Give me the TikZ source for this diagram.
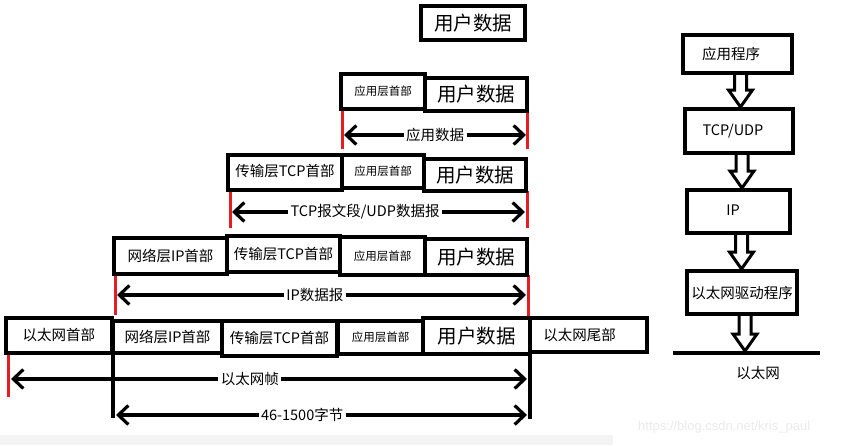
\documentclass[tikz,border=0pt]{standalone}
\usepackage{fontspec}
\setmainfont{Noto Sans CJK SC}
\newfontfamily\wmfont{Liberation Sans}
\usetikzlibrary{arrows.meta,calc,backgrounds}
\definecolor{redmark}{HTML}{E51C23}
\definecolor{stripgray}{HTML}{F4F4F4}
\definecolor{wmgray}{HTML}{EAEAEA}
\newcommand\hollowarrow[2]{%
  \draw[harr] let \p1=(#1), \p2=(#2) in
    (\x1-3pt,\y1+1pt) -- (\x1+9pt,\y1+1pt) -- (\x1+9pt,\y2+19pt) -- (\x1+15pt,\y2+19pt)
    -- (\x1+3pt,\y2+2pt) -- (\x1-9pt,\y2+19pt) -- (\x1-3pt,\y2+19pt) -- cycle;}
\begin{document}
\begin{tikzpicture}[x=1pt,y=-1pt,
  box/.style={draw=black, line width=3.5pt, fill=white, inner sep=0pt, outer sep=0pt, anchor=north west},
  rbox/.style={box, line width=4pt},
  big/.style={font=\fontsize{19.5}{19.5}\selectfont},
  mid/.style={font=\fontsize{14.5}{14.5}\selectfont},
  small/.style={font=\fontsize{11.5}{11.5}\selectfont},
  redl/.style={draw=redmark, line width=3pt},
  blackl/.style={draw=black, line width=3.5pt},
  span/.style={draw=black, line width=3.5pt,
    {Straight Barb[length=10pt,width=19pt,line width=3.2pt]}-{Straight Barb[length=10pt,width=19pt,line width=3.2pt]}},
  lab/.style={fill=white, inner sep=2.5pt, font=\fontsize{14.5}{14.5}\selectfont},
  harr/.style={draw=black, line width=3pt, fill=white, line join=miter}
]
\useasboundingbox (0,0) rectangle (855,445);
\fill[stripgray] (0,435) rectangle (613,445);
\node[font=\wmfont\fontsize{13}{13}\selectfont, text=wmgray, anchor=west, inner sep=0pt] (wm) at (638,427) {https://blog.csdn.net/kris\_paul};

% vertical marker lines
\coordinate (r1l) at (342,109); \coordinate (r1lb) at (342,149);
\coordinate (r1r) at (527.5,111); \coordinate (r1rb) at (527.5,149);
\coordinate (r2l) at (230,190); \coordinate (r2lb) at (230,228);
\coordinate (r2r) at (527,191); \coordinate (r2rb) at (527,228);
\coordinate (r3l) at (115,274); \coordinate (r3lb) at (115,315);
\coordinate (r3r) at (528,275); \coordinate (r3rb) at (528,316);
\coordinate (r4l) at (8,353); \coordinate (r4lb) at (8,397);
\draw[redl] (r1l) -- (r1lb);
\draw[redl] (r1r) -- (r1rb);
\draw[redl] (r2l) -- (r2lb);
\draw[redl] (r2r) -- (r2rb);
\draw[redl] (r3l) -- (r3lb);
\draw[redl] (r3r) -- (r3rb);
\draw[redl] (r4l) -- (r4lb);
\coordinate (b1t) at (113,320); \coordinate (b1b) at (113,418);
\coordinate (b2t) at (530,318); \coordinate (b2b) at (530,419);
\draw[blackl] (b1t) -- (b1b);
\draw[blackl] (b2t) -- (b2b);

% span arrows
\coordinate (s1l) at (344,135); \coordinate (s1r) at (526,135);
\coordinate (s2l) at (232,212); \coordinate (s2r) at (525,212);
\coordinate (s3l) at (117,295); \coordinate (s3r) at (526,295);
\coordinate (s4l) at (11,379); \coordinate (s4r) at (527,379);
\coordinate (s5l) at (116,415); \coordinate (s5r) at (527,415);
\draw[span] (s1l) -- (s1r) node[lab, pos=0.5] (l1) {应用数据};
\draw[span] (s2l) -- (s2r) node[lab, pos=0.454] (l2) {TCP报文段/UDP数据报};
\draw[span] (s3l) -- (s3r) node[lab, pos=0.484] (l3) {IP数据报};
\draw[span] (s4l) -- (s4r) node[lab, pos=0.463] (l4) {以太网帧};
\draw[span] (s5l) -- (s5r) node[lab, pos=0.453] (l5) {46-1500字节};

% top
\node[box, line width=4pt, minimum width=104, minimum height=34, big] (u0) at (421,6) {\raisebox{-4pt}{用户数据}};
% row 1
\node[box, minimum width=84, minimum height=35, small] (a1) at (341,74) {\raisebox{2pt}{应用层首部}};
\node[box, minimum width=102, minimum height=33, big] (u1) at (425,78) {\raisebox{-3pt}{用户数据}};
% row 2
\node[box, minimum width=114, minimum height=35, mid] (t2) at (228,155) {\raisebox{4pt}{传输层TCP首部}};
\node[box, minimum width=82, minimum height=33, small] (a2) at (342,155) {应用层首部};
\node[box, minimum width=102, minimum height=32, big] (u2) at (424,159) {用户数据};
% row 3
\node[box, minimum width=113, minimum height=36, mid] (n3) at (114,238) {网络层IP首部};
\node[box, minimum width=113, minimum height=36, mid] (t3) at (227,236) {传输层TCP首部};
\node[box, minimum width=85, minimum height=38, small] (a3) at (340,237) {应用层首部};
\node[box, minimum width=102, minimum height=36, big] (u3) at (425,239) {\raisebox{-4pt}{用户数据}};
% row 4
\node[box, minimum width=106, minimum height=35, mid] (e4) at (6,318) {\raisebox{2pt}{以太网首部}};
\node[box, minimum width=109, minimum height=32, mid] (n4) at (113,321) {网络层IP首部};
\node[box, minimum width=115, minimum height=35, mid] (t4) at (222,321) {传输层TCP首部};
\node[box, minimum width=85, minimum height=33, small] (a4) at (338,321) {应用层首部};
\node[box, line width=4pt, minimum width=107, minimum height=36, big] (u4) at (423,318) {用户数据};
\node[box, minimum width=117, minimum height=34, mid] (f4) at (530,318) {\hspace*{-18pt}以太网尾部};

% right column
\coordinate (gl) at (673,353); \coordinate (gr) at (820,353);
\coordinate (gtip) at (745,353);
\node[rbox, minimum width=109, minimum height=38, mid] (app) at (683,35) {\hspace*{-13pt}应用程序};
\node[rbox, minimum width=108, minimum height=44, mid] (tcp) at (685,109) {\hspace*{-12pt}TCP/UDP};
\node[rbox, minimum width=103, minimum height=43, mid] (ip) at (687,190) {\hspace*{-11pt}\raisebox{2pt}{IP}};
\node[rbox, minimum width=110, minimum height=43, mid] (drv) at (687,271) {以太网驱动程序};
\draw[blackl] (gl) -- (gr);
\begin{scope}[on background layer]
\hollowarrow{app.south}{tcp.north}
\hollowarrow{tcp.south}{ip.north}
\hollowarrow{ip.south}{drv.north}
\hollowarrow{drv.south}{gtip}
\end{scope}
\node[mid, inner sep=0pt] (eth) at (758,373) {以太网};
\end{tikzpicture}
\end{document}
